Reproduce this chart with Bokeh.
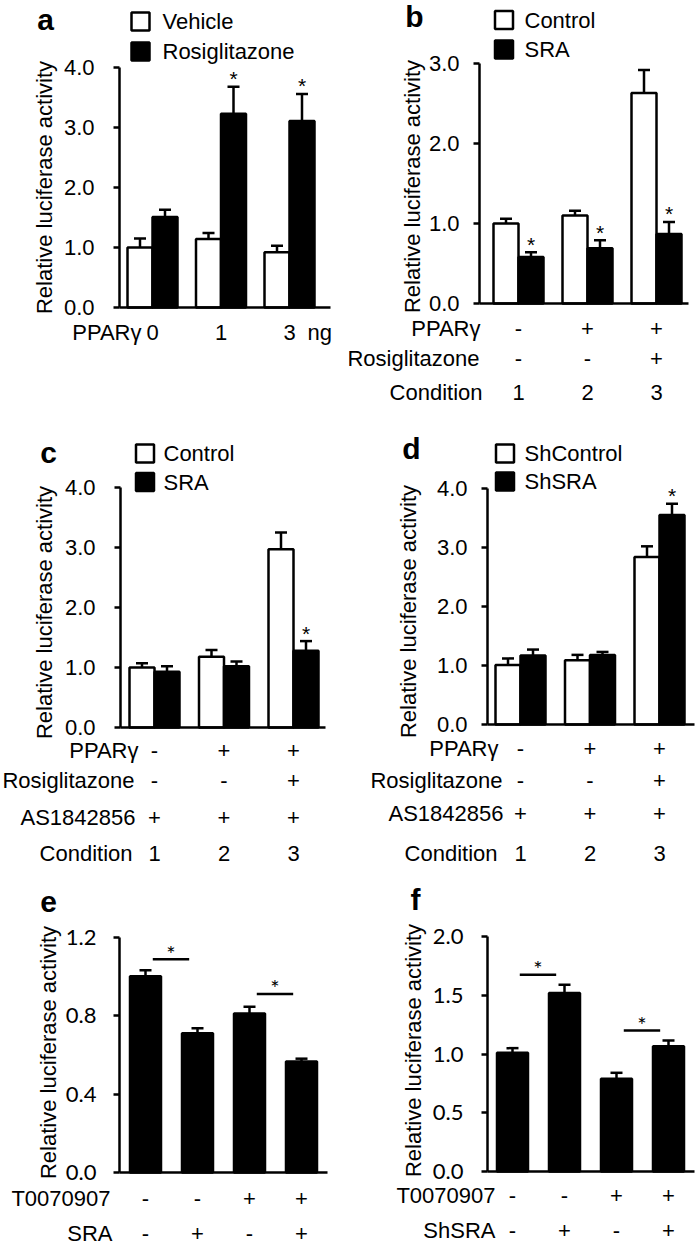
import math
from bokeh.plotting import figure
from bokeh.models import Range1d, FixedTicker, NumeralTickFormatter
from bokeh.layouts import row, column
from bokeh.embed import file_html
from bokeh.resources import INLINE
from bokeh.core.properties import value

# ---------------- data ----------------
# panel a
a_ticks = ["0", "1", "3"]
a_vehicle = [1.00, 1.14, 0.92]
a_vehicle_err = [1.15, 1.24, 1.03]
a_rosi = [1.51, 3.23, 3.11]
a_rosi_err = [1.63, 3.68, 3.56]
a_rosi_sig = [False, True, True]

# panel b
b_control = [1.00, 1.10, 2.63]
b_control_err = [1.06, 1.16, 2.92]
b_sra = [0.58, 0.69, 0.87]
b_sra_err = [0.64, 0.79, 1.02]
b_sra_sig = [True, True, True]
b_row_names = ["PPAR\u03b3", "Rosiglitazone", "Condition"]
b_row_vals = [["-", "+", "+"], ["-", "-", "+"], ["1", "2", "3"]]

# panel c
c_control = [1.00, 1.18, 2.97]
c_control_err = [1.07, 1.29, 3.25]
c_sra = [0.93, 1.02, 1.28]
c_sra_err = [1.02, 1.10, 1.44]
c_sra_sig = [False, False, True]
cd_row_names = ["PPAR\u03b3", "Rosiglitazone", "AS1842856", "Condition"]
cd_row_vals = [["-", "+", "+"], ["-", "-", "+"], ["+", "+", "+"], ["1", "2", "3"]]

# panel d
d_shcontrol = [1.01, 1.09, 2.84]
d_shcontrol_err = [1.12, 1.18, 3.02]
d_shsra = [1.17, 1.18, 3.55]
d_shsra_err = [1.27, 1.23, 3.74]
d_shsra_sig = [False, False, True]

# panel e
e_values = [1.00, 0.71, 0.81, 0.565]
e_err = [1.03, 0.735, 0.845, 0.58]
e_row_names = ["T0070907", "SRA"]
e_row_vals = [["-", "-", "+", "+"], ["-", "+", "-", "+"]]
e_sig_pairs = [(1, 2), (3, 4)]
e_sig_levels = [1.086, 0.91]

# panel f
f_values = [1.01, 1.52, 0.79, 1.065]
f_err = [1.05, 1.59, 0.84, 1.115]
f_row_names = ["T0070907", "ShSRA"]
f_row_vals = [["-", "-", "+", "+"], ["-", "+", "-", "+"]]
f_sig_pairs = [(1, 2), (3, 4)]
f_sig_levels = [1.674, 1.20]

# ---------------- helpers ----------------
ARIAL = "Liberation Sans"
TXT = "22px"
LW = 2.5


def base_fig(W, H, cx1, dx, y0, s):
    xr = Range1d(1 - cx1 / dx, 1 + (W - cx1) / dx)
    yr = Range1d((y0 - H) / s, y0 / s)
    p = figure(width=W, height=H, x_range=xr, y_range=yr,
               output_backend="svg", toolbar_location=None, tools="",
               min_border=0, outline_line_color=None)
    p.grid.visible = False
    X = lambda px: 1 + (px - cx1) / dx
    Y = lambda py: (y0 - py) / s
    return p, X, Y


def axes(p, X, axis_px, right_px, yticks, tick_font, tick_size, standoff):
    ya = p.yaxis[0]
    ya.fixed_location = X(axis_px)
    ya.bounds = (yticks[0], yticks[-1])
    ya.ticker = FixedTicker(ticks=yticks, minor_ticks=[])
    ya.formatter = NumeralTickFormatter(format="0.0")
    ya.axis_line_width = LW
    ya.major_tick_line_width = LW
    ya.major_tick_out = 6
    ya.major_tick_in = 0
    ya.minor_tick_line_color = None
    ya.major_label_text_font = tick_font
    ya.major_label_text_font_size = tick_size
    ya.major_label_text_color = "black"
    ya.major_label_standoff = standoff
    xa = p.xaxis[0]
    xa.fixed_location = 0
    xa.bounds = (X(axis_px), X(right_px))
    xa.ticker = FixedTicker(ticks=[], minor_ticks=[])
    xa.axis_line_width = LW
    xa.major_tick_line_color = None
    xa.minor_tick_line_color = None
    xa.major_label_text_font_size = "0px"


def txt(p, x, y, s, size=TXT, align="left", font=ARIAL, style="normal", angle=0.0,
        baseline="middle"):
    p.text(x=[x], y=[y], text=[s], text_font=value(font), text_font_size=size,
           text_align=align, text_baseline=baseline, text_font_style=style,
           angle=angle, text_color="black")


def err_bars(p, xs, tops, errs, cap):
    p.segment(x0=xs, y0=tops, x1=xs, y1=errs, line_width=LW, line_color="black")
    p.segment(x0=[x - cap for x in xs], y0=errs, x1=[x + cap for x in xs], y1=errs,
              line_width=LW, line_color="black", line_cap="butt")


def stars(p, xs, levels, flags, font=ARIAL, size="21px", off=-8):
    sx = [x for x, f in zip(xs, flags) if f]
    sy = [y for y, f in zip(levels, flags) if f]
    if sx:
        p.text(x=sx, y=sy, text=["*"] * len(sx), text_font=value(font),
               text_font_size=size, text_align="center", text_baseline="alphabetic",
               y_offset=off, text_color="black")


def grouped(W, H, cx1, dx, y0, s, axis_px, right_px, yticks, standoff,
            white, white_err, black, black_err, black_sig, names,
            sq_x, sq_y, leg_x, letter, letter_xy, ylab_xy):
    p, X, Y = base_fig(W, H, cx1, dx, y0, s)
    axes(p, X, axis_px, right_px, yticks, ARIAL, "22px", standoff)
    n = len(white)
    bw = 25.0 / dx
    idx = list(range(1, n + 1))
    xw = [i - bw / 2 for i in idx]
    xb = [i + bw / 2 for i in idx]
    p.vbar(x=xw, top=white, width=bw, bottom=0, fill_color="white",
           line_color="black", line_width=LW)
    p.vbar(x=xb, top=black, width=bw, bottom=0, fill_color="black",
           line_color="black", line_width=LW)
    cap = 6.0 / dx
    err_bars(p, xw, white, white_err, cap)
    err_bars(p, xb, black, black_err, cap)
    stars(p, xb, black_err, black_sig)
    # legend
    p.scatter(x=[X(sq_x)], y=[Y(sq_y[0])], marker="square", size=18,
              fill_color="white", line_color="black", line_width=LW)
    p.scatter(x=[X(sq_x)], y=[Y(sq_y[1])], marker="square", size=18,
              fill_color="black", line_color="black", line_width=LW)
    txt(p, X(leg_x), Y(sq_y[0]), names[0])
    txt(p, X(leg_x), Y(sq_y[1]), names[1])
    txt(p, X(letter_xy[0]), Y(letter_xy[1]), letter, size="30px", style="bold",
        align="center")
    txt(p, X(ylab_xy[0]), Y(ylab_xy[1]), "Relative luciferase activity",
        align="center", angle=math.pi / 2)
    return p, X, Y, idx


def rows_table(p, X, Y, idx, row_names, row_vals, right_edges, ys):
    for name, vals, rx, ry in zip(row_names, row_vals, right_edges, ys):
        txt(p, X(rx), Y(ry), name, align="right")
        p.text(x=idx, y=[Y(ry)] * len(idx), text=vals, text_font=value(ARIAL),
               text_font_size=TXT, text_align="center", text_baseline="middle",
               text_color="black")


def single(W, H, cx1, dx, y0, s, axis_px, right_px, yticks, standoff,
           vals, errs, sig_pairs, sig_levels, letter, letter_xy, ylab_xy,
           row_names, row_vals, right_edges, ys):
    p, X, Y = base_fig(W, H, cx1, dx, y0, s)
    axes(p, X, axis_px, right_px, yticks, "Lato", "22px", standoff)
    idx = list(range(1, len(vals) + 1))
    bw = 31.0 / dx
    p.vbar(x=idx, top=vals, width=bw, bottom=0, fill_color="black",
           line_color="black", line_width=LW)
    err_bars(p, idx, vals, errs, 6.0 / dx)
    x0 = [a + 0.14 for a, b in sig_pairs]
    x1 = [b - 0.16 for a, b in sig_pairs]
    p.segment(x0=x0, y0=sig_levels, x1=x1, y1=sig_levels, line_width=LW,
              line_color="black")
    stars(p, [(a + b) / 2 for a, b in zip(x0, x1)], sig_levels,
          [True] * len(sig_levels), font="Lato", size="22px", off=-6)
    txt(p, X(letter_xy[0]), Y(letter_xy[1]), letter, size="30px", style="bold",
        align="center")
    txt(p, X(ylab_xy[0]), Y(ylab_xy[1]), "Relative luciferase activity",
        align="center", angle=math.pi / 2)
    rows_table(p, X, Y, idx, row_names, row_vals, right_edges, ys)
    return p


# ---------------- panel a ----------------
pa, Xa, Ya, ia = grouped(348, 410, 152, 68.5, 307, 60, 119, 330, [0, 1, 2, 3, 4], 19,
                         a_vehicle, a_vehicle_err, a_rosi, a_rosi_err, a_rosi_sig,
                         ["Vehicle", "Rosiglitazone"], 140, (21, 51), 162,
                         "a", (45, 19), (44, 187))
txt(pa, Xa(141), Ya(332), "PPAR\u03b3", align="right")
pa.text(x=ia, y=[Ya(332)] * 3, text=a_ticks, text_font=value(ARIAL), text_font_size=TXT,
        text_align="center", text_baseline="middle", text_color="black")
txt(pa, Xa(307), Ya(332), "ng")

# ---------------- panel b ----------------
pb, Xb, Yb, ib = grouped(349, 410, 170, 69, 303, 80, 131, 340, [0, 1, 2, 3], 14,
                         b_control, b_control_err, b_sra, b_sra_err, b_sra_sig,
                         ["Control", "SRA"], 155.5, (19.5, 49), 176,
                         "b", (66, 16), (64, 186))
rows_table(pb, Xb, Yb, ib, b_row_names, b_row_vals, [132, 131, 134], [328, 358, 392])

# ---------------- panel c ----------------
pc, Xc, Yc, ic = grouped(348, 460, 154, 69.5, 317, 60, 120, 325, [0, 1, 2, 3, 4], 19,
                         c_control, c_control_err, c_sra, c_sra_err, c_sra_sig,
                         ["Control", "SRA"], 144.5, (43, 71.5), 163,
                         "c", (48, 42), (44, 202))
rows_table(pc, Xc, Yc, ic, cd_row_names, cd_row_vals, [138, 134, 135, 132],
           [340, 370, 407, 443])

# ---------------- panel d ----------------
pd_, Xd, Yd, idd = grouped(349, 460, 172, 69.5, 314, 59, 139, 346, [0, 1, 2, 3, 4], 14,
                           d_shcontrol, d_shcontrol_err, d_shsra, d_shsra_err, d_shsra_sig,
                           ["ShControl", "ShSRA"], 156.5, (43, 71), 176,
                           "d", (63, 38), (60, 201))
rows_table(pd_, Xd, Yd, idd, cd_row_names, cd_row_vals, [150, 154, 155, 149],
           [338, 370, 403, 443])

# ---------------- panel e ----------------
pe = single(348, 375, 145, 52, 302, 196.25, 119, 327, [0, 0.4, 0.8, 1.2], 17,
            e_values, e_err, e_sig_pairs, e_sig_levels, "e", (48, 31), (48, 182),
            e_row_names, e_row_vals, [110, 112], [328, 363])

# ---------------- panel f ----------------
pf = single(349, 375, 164, 52, 301, 117.5, 139, 346, [0, 0.5, 1.0, 1.5, 2.0], 18,
            f_values, f_err, f_sig_pairs, f_sig_levels, "f", (67, 29), (65, 180),
            f_row_names, f_row_vals, [147, 147], [325, 360])

layout = column(row(pa, pb), row(pc, pd_), row(pe, pf))
open("out.html", "w").write(file_html(layout, INLINE))
